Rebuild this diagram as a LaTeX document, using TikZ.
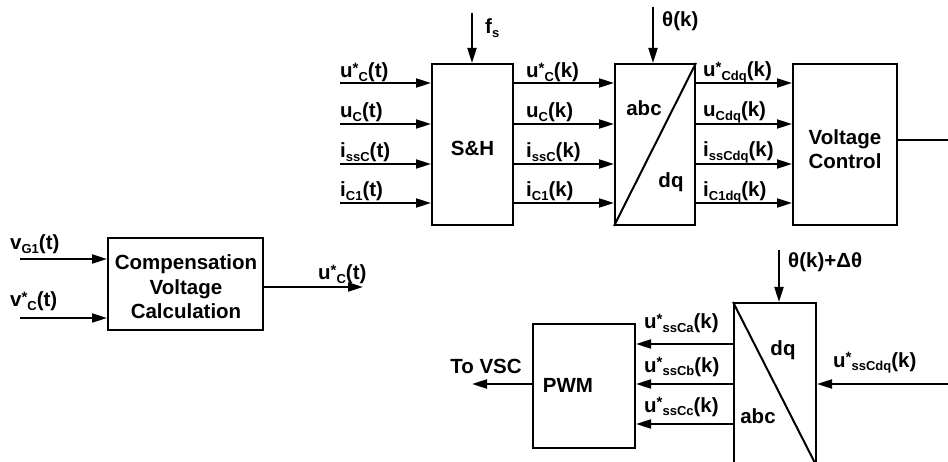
\documentclass[tikz,border=0pt]{standalone}
\usepackage{fontspec}
\setmainfont{Liberation Sans}
\usetikzlibrary{arrows.meta}
\newcommand{\lsub}[1]{\raisebox{-0.3ex}{\fontsize{13}{13}\selectfont #1}}
\newcommand{\lsup}[1]{\raisebox{0.4ex}{\fontsize{15}{15}\selectfont #1}}
\begin{document}
\begin{tikzpicture}[x=1pt,y=-1pt,
  font=\fontsize{20.5}{25}\selectfont\bfseries,
  box/.style={draw, line width=2pt, inner sep=0pt, align=center},
  arr/.style={-{Triangle[length=15pt,width=9pt]}, line width=2pt},
  plain/.style={line width=2pt},
  lab/.style={anchor=base west, inner sep=0pt},
  txt/.style={inner sep=0pt, align=center, font=\fontsize{20.5}{24.5}\selectfont\bfseries}]
\useasboundingbox (0,0) rectangle (948,462);

% boxes
\node[box, minimum width=81, minimum height=161] (sh) at (472.5,144.5) {};
\node[txt] (shT) at (472.5,148) {S\&H};
\node[box, minimum width=80, minimum height=161] (t1) at (655,144.5) {};
\node[box, minimum width=104, minimum height=161] (vc) at (845,144.5) {};
\node[txt] (vcT) at (845,149) {Voltage\\Control};
\node[box, minimum width=155, minimum height=92] (comp) at (185.5,284) {};
\node[txt] (compT) at (186,287) {Compensation\\Voltage\\Calculation};
\node[box, minimum width=102, minimum height=124] (pwm) at (584,386) {};
\node[txt] (pwmT) at (568,385) {PWM};
\node[box, minimum width=82, minimum height=163] (t2) at (775,384.5) {};

% diagonals and transform labels
\draw[plain] (t1.south west) -- (t1.north east);
\node[txt] (t1a) at (644,108) {abc};
\node[txt] (t1d) at (671,182) {dq};
\draw[plain] (t2.north west) -- (t2.south east);
\node[txt] (t2d) at (783,350) {dq};
\node[txt] (t2a) at (758,416) {abc};

% S&H inputs
\coordinate (i1) at (340,83);
\coordinate (i2) at (340,124);
\coordinate (i3) at (340,164);
\coordinate (i4) at (340,203);
\foreach \c in {i1,i2,i3,i4} \draw[arr] (\c) -- (\c -| sh.west);
\node[lab] (li1) at (340,78) {u\lsup{*}\lsub{C}(t)};
\node[lab] (li2) at (340,118) {u\lsub{C}(t)};
\node[lab] (li3) at (340,158) {i\lsub{ssC}(t)};
\node[lab] (li4) at (340,197) {i\lsub{C1}(t)};

% S&H outputs
\foreach \c in {i1,i2,i3,i4} \draw[arr] (\c -| sh.east) -- (\c -| t1.west);
\node[lab] (lo1) at (526,78) {u\lsup{*}\lsub{C}(k)};
\node[lab] (lo2) at (526,118) {u\lsub{C}(k)};
\node[lab] (lo3) at (526,158) {i\lsub{ssC}(k)};
\node[lab] (lo4) at (526,197) {i\lsub{C1}(k)};

% abc/dq outputs
\foreach \c in {i1,i2,i3,i4} \draw[arr] (\c -| t1.east) -- (\c -| vc.west);
\node[lab] (lq1) at (703,77) {u\lsup{*}\lsub{Cdq}(k)};
\node[lab] (lq2) at (703,117) {u\lsub{Cdq}(k)};
\node[lab] (lq3) at (703,157) {i\lsub{ssCdq}(k)};
\node[lab] (lq4) at (703,197) {i\lsub{C1dq}(k)};

% sampling frequency and angle
\coordinate (fs) at (472,13);
\draw[arr] (fs) -- (fs |- sh.north);
\node[lab] (lfs) at (485,34) {f\lsub{s}};
\coordinate (th) at (653,7);
\draw[arr] (th) -- (th |- t1.north);
\node[lab] (lth) at (662,27) {θ(k)};

% voltage control output
\coordinate (vco) at (948,140);
\draw[plain] (vco -| vc.east) -- (vco);

% compensation block
\coordinate (c1) at (20,259);
\coordinate (c2) at (20,318);
\draw[arr] (c1) -- (c1 -| comp.west);
\draw[arr] (c2) -- (c2 -| comp.west);
\node[lab] (lc1) at (10,250) {v\lsub{G1}(t)};
\node[lab] (lc2) at (10,307) {v\lsup{*}\lsub{C}(t)};
\coordinate (co) at (363,287);
\draw[arr] (co -| comp.east) -- (co);
\node[lab] (lco) at (318,280) {u\lsup{*}\lsub{C}(t)};

% lower transform
\coordinate (th2) at (779,250);
\draw[arr] (th2) -- (th2 |- t2.north);
\node[lab] (lth2) at (788,268) {θ(k)+Δθ};
\coordinate (din) at (948,384);
\draw[arr] (din) -- (din -| t2.east);
\node[lab] (ldin) at (833,367) {u\lsup{*}\lsub{ssCdq}(k)};
\coordinate (p1) at (700,344);
\coordinate (p2) at (700,384);
\coordinate (p3) at (700,424);
\foreach \c in {p1,p2,p3} \draw[arr] (\c -| t2.west) -- (\c -| pwm.east);
\node[lab] (lp1) at (644,329) {u\lsup{*}\lsub{ssCa}(k)};
\node[lab] (lp2) at (644,372) {u\lsup{*}\lsub{ssCb}(k)};
\node[lab] (lp3) at (644,412) {u\lsup{*}\lsub{ssCc}(k)};

% to VSC
\coordinate (vsc) at (472,384);
\draw[arr] (vsc -| pwm.west) -- (vsc);
\node[txt] (lvsc) at (486,366) {To VSC};
\end{tikzpicture}
\end{document}
